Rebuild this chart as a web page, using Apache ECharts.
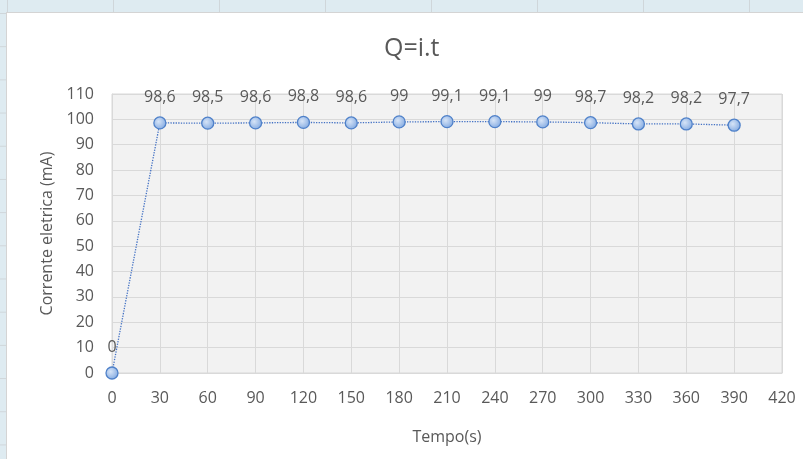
<!DOCTYPE html>
<html>
<head>
<meta charset="utf-8">
<script src="https://cdn.jsdelivr.net/npm/echarts@6/dist/echarts.min.js"></script>
<style>
  html, body { margin: 0; padding: 0; }
  body {
    width: 803px; height: 459px; overflow: hidden; position: relative;
    background-color: #deebf1;
    background-image:
      linear-gradient(to right, #cfd6da 1px, transparent 1px),
      linear-gradient(to bottom, #cfd6da 1px, transparent 1px);
    background-size: 106px 100%, 100% 33.2px;
    background-position: 113px 0, 0 13px;
  }
  #chart {
    position: absolute; left: 6px; top: 12px;
    width: 797px; height: 447px;
    border-left: 1px solid #d4d4d4; border-top: 1px solid #d4d4d4;
    background: #fff;
  }
</style>
</head>
<body>
<div id="chart"></div>
<script>
const tempos = [0, 30, 60, 90, 120, 150, 180, 210, 240, 270, 300, 330, 360, 390];
const correntes = [0, 98.6, 98.5, 98.6, 98.8, 98.6, 99, 99.1, 99.1, 99, 98.7, 98.2, 98.2, 97.7];

const fonte = '"Open Sans", "Noto Sans", sans-serif';
const cinza = '#595959';

const pontos = tempos.map(function (t, i) { return [t, correntes[i]]; });

const option = {
  animation: false,
  title: {
    text: 'Q=i.t',
    left: 372,
    top: 18,
    textStyle: { color: cinza, fontSize: 25, fontWeight: 'normal', fontFamily: fonte }
  },
  grid: {
    left: 105,
    top: 81,
    right: 22,
    bottom: 87,
    show: true,
    backgroundColor: '#f2f2f2',
    borderColor: '#d9d9d9',
    borderWidth: 1
  },
  xAxis: {
    type: 'value',
    min: 0,
    max: 420,
    interval: 30,
    name: 'Tempo(s)',
    nameLocation: 'middle',
    nameGap: 56,
    nameTextStyle: { color: cinza, fontSize: 16, fontFamily: fonte },
    axisLine: { lineStyle: { color: '#d9d9d9' } },
    axisTick: { show: false },
    axisLabel: { color: cinza, fontSize: 16, fontFamily: fonte, margin: 17 },
    splitLine: { lineStyle: { color: '#d9d9d9', width: 1 } }
  },
  yAxis: {
    type: 'value',
    min: 0,
    max: 110,
    interval: 10,
    name: 'Corrente eletrica (mA)',
    nameLocation: 'middle',
    nameRotate: 90,
    nameGap: 56,
    nameTextStyle: { color: cinza, fontSize: 16, fontFamily: fonte },
    axisLine: { show: true, lineStyle: { color: '#d9d9d9' } },
    axisTick: { show: false },
    axisLabel: { color: cinza, fontSize: 16, fontFamily: fonte, margin: 18 },
    splitLine: { lineStyle: { color: '#d9d9d9', width: 1 } }
  },
  series: [{
    type: 'line',
    data: pontos,
    symbol: 'circle',
    symbolSize: 12,
    lineStyle: { color: '#4472c4', width: 1.3, type: 'dotted' },
    itemStyle: {
      color: {
        type: 'radial', x: 0.4, y: 0.4, r: 0.6,
        colorStops: [
          { offset: 0, color: '#d6e4f7' },
          { offset: 1, color: '#86ace2' }
        ]
      },
      borderColor: '#4f81c9',
      borderWidth: 1.3
    },
    label: {
      show: true,
      position: 'top',
      distance: 11,
      color: cinza,
      fontSize: 16,
      fontFamily: fonte,
      formatter: function (p) { return String(p.value[1]).replace('.', ','); }
    }
  }]
};

const myChart = echarts.init(document.getElementById('chart'));
myChart.setOption(option);
</script>
</body>
</html>
